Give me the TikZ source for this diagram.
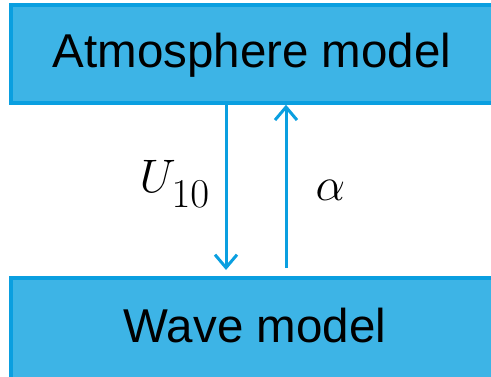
\RequirePackage{fix-cm}
\documentclass[tikz,border=0pt]{standalone}
\usepackage{fontspec}
\setmainfont{Liberation Sans}
\usetikzlibrary{arrows.meta}
\definecolor{boxfill}{HTML}{3DB4E6}
\definecolor{boxline}{HTML}{0A9FE0}
\begin{document}
\begin{tikzpicture}[x=1pt,y=1pt,
  modelbox/.style={draw=boxline,fill=boxfill,line width=3.5pt,minimum width=484pt,minimum height=98pt,inner sep=0pt,
    font=\fontsize{47.5}{50}\selectfont},
  flow/.style={draw=boxline,line width=3pt,-{Straight Barb[length=13pt,width=22pt,line width=3pt]}},
  lbl/.style={font=\fontsize{47}{48}\selectfont,inner sep=0pt,anchor=base west}]
\useasboundingbox (0,0) rectangle (491,376);
\clip (0,0) rectangle (491,376);
\node[modelbox] (atm) at (253,322) {};
\node[modelbox,minimum height=102pt] (wave) at (253,47) {};
\node[font=\fontsize{47.5}{50}\selectfont,inner sep=0pt] (atmtext) at (252,321) {Atmosphere model};
\node[font=\fontsize{47.5}{50}\selectfont,inner sep=0pt] (wavetext) at (255,50) {Wave model};
\coordinate (dnend) at (226,106);
\coordinate (upstart) at (286,108);
\draw[flow] (atm.south -| dnend) -- (dnend);
\draw[flow] (upstart) -- (atm.south -| upstart);
\node[lbl] (u10) at (139.5,184) {\makebox[32pt][l]{$U$}\raisebox{-15pt}{\fontsize{41}{42}\selectfont$10$}};
\node[lbl] (alpha) at (315.5,176) {$\alpha$};
\end{tikzpicture}
\end{document}
